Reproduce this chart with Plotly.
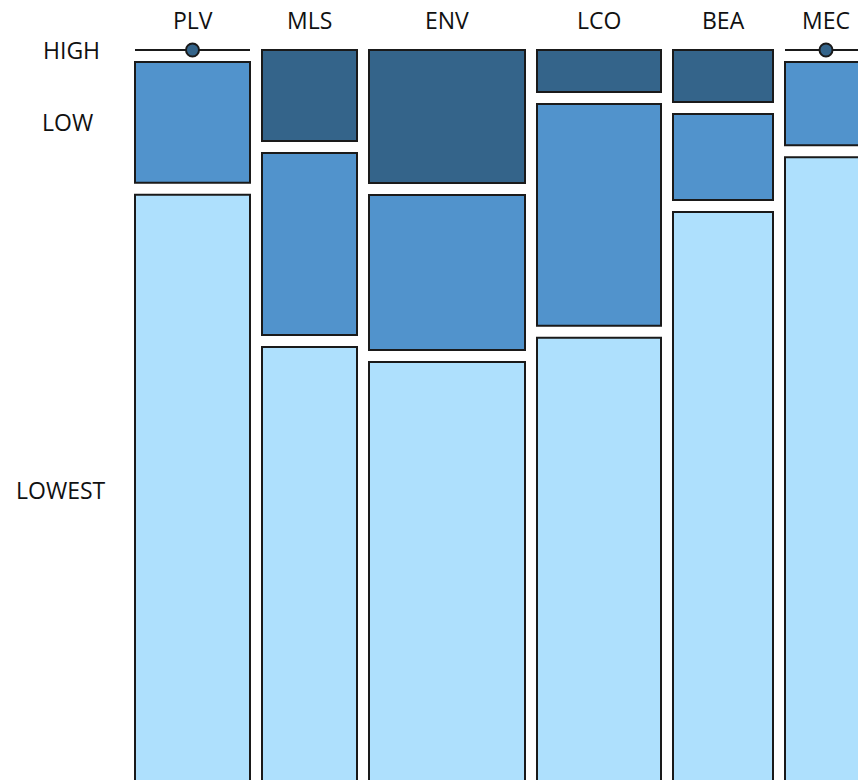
import plotly.graph_objects as go

# ---------------- data ----------------
categories = ["PLV", "MLS", "ENV", "LCO", "BEA", "MEC"]
levels = ["HIGH", "LOW", "LOWEST"]
col_counts = [115, 95, 156, 124, 100, 82]          # relative column widths
high = [0.0, 12.8, 18.7, 5.9, 7.3, 0.0]             # % of each column
low = [17.0, 25.6, 21.8, 31.2, 12.1, 11.7]
lowest = [83.0, 61.6, 59.5, 62.9, 80.6, 88.3]

level_values = [high, low, lowest]
level_colors = ["#34648A", "#5193CC", "#AEE0FD"]

# ---------------- layout constants ----------------
W, H = 858, 780
LEFT, TOP, GAP = 135, 50, 12
CONTENT_H = 711
FONT = "Open Sans"
EDGE = "#1a1a1a"
ROW_LABEL_X = [71, 67, 61]
FONT_SIZE = 23

# column geometry (computed from counts)
x0s, widths, centers = [], [], []
cur = LEFT
for c in col_counts:
    x0s.append(cur)
    widths.append(c)
    centers.append(cur + c / 2)
    cur += c + GAP

# vertical geometry per level (computed from fractions)
bases = []
heights = []
for j in range(len(categories)):
    y = TOP
    col_b, col_h = [], []
    for i, vals in enumerate(level_values):
        h = vals[j] / 100 * CONTENT_H
        col_b.append(y)
        col_h.append(h)
        y += h + GAP
    bases.append(col_b)
    heights.append(col_h)

fig = go.Figure()

for i, lev in enumerate(levels):
    xs, ws, bs, hs = [], [], [], []
    for j in range(len(categories)):
        if level_values[i][j] > 0:
            xs.append(centers[j])
            ws.append(widths[j])
            bs.append(bases[j][i])
            hs.append(heights[j][i])
    fig.add_trace(go.Bar(
        x=xs, y=hs, base=bs, width=ws, name=lev,
        marker=dict(color=level_colors[i], line=dict(color=EDGE, width=2)),
        showlegend=False, hoverinfo="skip",
    ))

# zero-size cells: line with a dot
for i, lev in enumerate(levels):
    for j in range(len(categories)):
        if level_values[i][j] == 0:
            yb = bases[j][i]
            fig.add_trace(go.Scatter(
                x=[x0s[j], x0s[j] + widths[j]], y=[yb, yb], mode="lines",
                line=dict(color=EDGE, width=2), showlegend=False, hoverinfo="skip",
            ))
            fig.add_trace(go.Scatter(
                x=[centers[j]], y=[yb], mode="markers",
                marker=dict(size=13, color=level_colors[i], line=dict(color=EDGE, width=2)),
                showlegend=False, hoverinfo="skip",
            ))

# column labels
for j, cat in enumerate(categories):
    fig.add_annotation(x=centers[j], y=20, text=cat, showarrow=False,
                       font=dict(family=FONT, size=FONT_SIZE, color="#111"),
                       xanchor="center", yanchor="middle")

# row labels, positioned at first column's cells
for i, lev in enumerate(levels):
    yc = bases[0][i] + heights[0][i] / 2
    fig.add_annotation(x=ROW_LABEL_X[i], y=yc, text=lev, showarrow=False,
                       font=dict(family=FONT, size=FONT_SIZE, color="#111"),
                       xanchor="center", yanchor="middle")

fig.update_layout(
    width=W, height=H,
    margin=dict(l=0, r=0, t=0, b=0),
    paper_bgcolor="white", plot_bgcolor="white",
    barmode="overlay",
    xaxis=dict(range=[0, W], visible=False, domain=[0, 1], fixedrange=True),
    yaxis=dict(range=[H, 0], visible=False, domain=[0, 1], fixedrange=True),
)

fig.write_html("out.html",
               config={"displayModeBar": False},
               post_script="document.body.style.margin='0';document.body.style.overflow='hidden';")
